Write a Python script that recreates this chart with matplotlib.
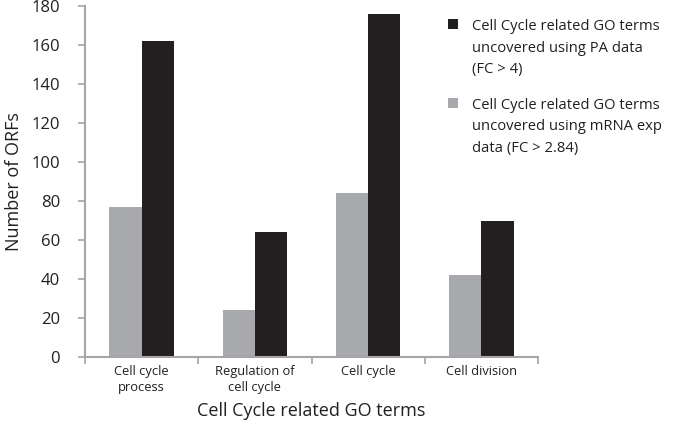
import matplotlib
matplotlib.use("Agg")
import matplotlib.pyplot as plt
import numpy as np

categories = ["Cell cycle\nprocess", "Regulation of\ncell cycle", "Cell cycle", "Cell division"]
mrna_values = [77, 24, 84, 42]
pa_values = [162, 64, 176, 70]
series_labels = ["Cell Cycle related GO terms\nuncovered using PA data\n(FC > 4)",
                 "Cell Cycle related GO terms\nuncovered using mRNA exp\ndata (FC > 2.84)"]
y_ticks = [0, 20, 40, 60, 80, 100, 120, 140, 160, 180]

plt.rcParams['font.family'] = ['Open Sans', 'DejaVu Sans']

fig = plt.figure(figsize=(6.76, 4.26), dpi=100)
ax = fig.add_axes([85/676, 69/426, 453/676, 351/426])

x = np.arange(len(categories))
w = 0.285
black = "#231f20"
gray = "#a7a9ac"
spine_c = "#a6a6a6"

b_gray = ax.bar(x - w/2, mrna_values, w, color=gray, edgecolor="none")
b_black = ax.bar(x + w/2, pa_values, w, color=black, edgecolor="none")

ax.set_xlim(-0.5, len(categories) - 0.5)
ax.set_ylim(0, 180)
ax.set_yticks(y_ticks)
ax.tick_params(axis='y', labelsize=12, color=spine_c, length=5, width=1.2, pad=13, labelcolor="#231f20")
ax.set_xticks(np.arange(len(categories) + 1) - 0.5)
ax.set_xticklabels([])
ax.tick_params(axis='x', which='major', color=spine_c, length=5, width=1.2, direction='out')
ax.set_xticks(x, minor=True)
ax.set_xticklabels(categories, minor=True, fontsize=9.3, color="#231f20", linespacing=1.25)
ax.tick_params(axis='x', which='minor', length=0, pad=6)

for s in ['top', 'right']:
    ax.spines[s].set_visible(False)
for s in ['left', 'bottom']:
    ax.spines[s].set_color(spine_c)
    ax.spines[s].set_linewidth(1.5)

ax.set_ylabel("Number of ORFs", fontsize=13, color="#231f20", labelpad=6)
ax.set_xlabel("Cell Cycle related GO terms", fontsize=13, color="#231f20", labelpad=6)

leg = fig.legend([b_black, b_gray], series_labels, loc="upper left",
                 bbox_to_anchor=(441/676, 1 - 12/426), frameon=False,
                 fontsize=10.6, handlelength=0.68, handleheight=0.68,
                 handletextpad=0.95, labelspacing=1.42, borderpad=0)
for t in leg.get_texts():
    t.set_color("#231f20")
    t.set_linespacing(1.58)
for col in leg._legend_handle_box.get_children():
    for item in col.get_children():
        item.align = "top"

fig.savefig("out.png", dpi=100)
